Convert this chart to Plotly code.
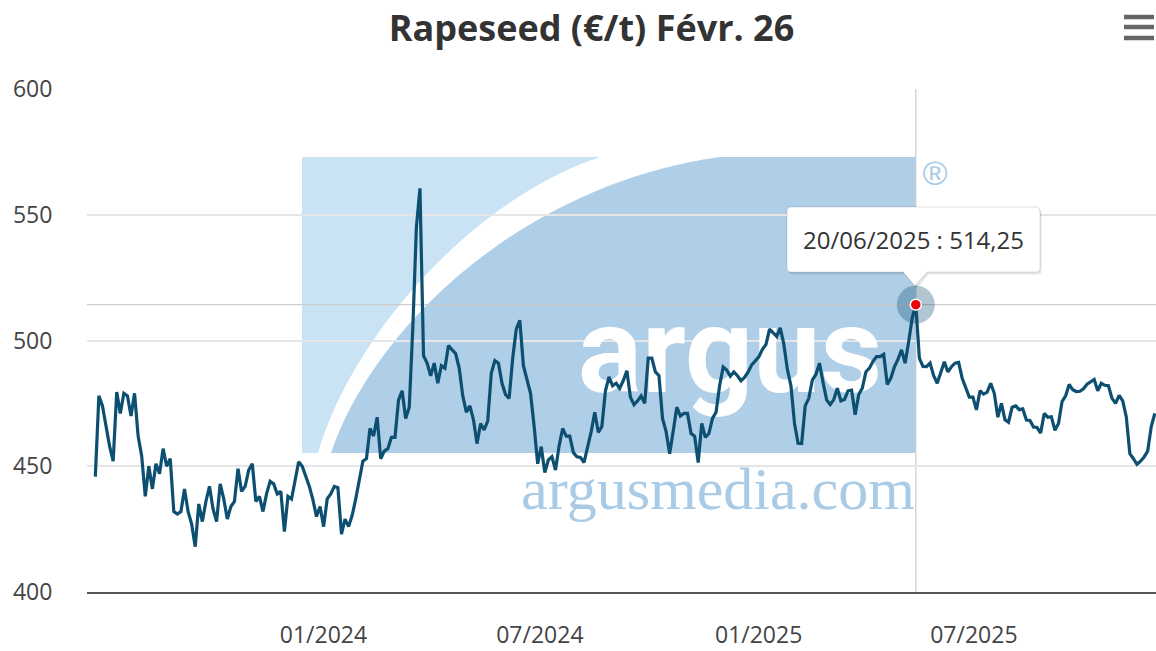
import pandas as pd
import plotly.graph_objects as go

# ---------------- data ----------------
title_text = "Rapeseed (€/t) Févr. 26"
start_date = "2023-07-31"
date_step = "3D"
prices = [
    445.9, 478, 474, 466, 458, 452, 479.5, 471, 479, 478,
    470, 479, 462, 454, 438, 450, 441, 451, 447, 457,
    450, 453, 432, 431, 432, 441, 432, 427, 418, 435,
    428, 436, 442, 433, 428, 443, 437, 429, 434, 436,
    449, 440, 442, 448.5, 451, 436, 438, 432, 439, 444,
    443, 439, 440, 424, 438, 437, 444, 451.8, 450, 446,
    442, 436.6, 430, 434, 426, 437, 439, 442, 441.5, 423,
    429, 426, 430.5, 437, 444, 452, 453, 465, 462, 469.5,
    453, 456, 457, 461.5, 461.5, 476.4, 480, 469, 473.5, 505,
    545, 560.5, 494, 491, 486, 491, 483, 490, 489, 498,
    496.3, 494.8, 489, 478, 471.5, 474, 468.5, 459, 467, 464.4,
    468, 487, 492, 491, 483, 478.5, 477, 493, 504.5, 508,
    490, 484.3, 479, 466, 451, 457.8, 447.5, 452.5, 453.8, 448.5,
    458, 465, 462, 462, 455.5, 453.8, 453.5, 451.5, 457.5, 463.7,
    471.5, 463.5, 465.8, 480, 485.5, 482, 483, 481, 484, 488,
    477.5, 474.5, 476, 478, 475, 493, 493, 487.5, 486, 469,
    463.8, 455, 464, 473.5, 470, 471, 471, 463, 462, 451.5,
    467, 461.5, 463, 469, 471.5, 482, 489.5, 488.3, 485.8, 487.5,
    486, 484, 485.3, 487.5, 490.3, 491.8, 493.5, 496.5, 498.4, 504.5,
    503, 501.6, 505, 498.6, 488.5, 482, 467, 459.1, 459, 474,
    477, 484.3, 486.5, 491, 483.3, 476.4, 474.5, 476.5, 481, 476,
    476.5, 480, 480.3, 470.5, 478.5, 481, 487.5, 489, 491.7, 493.6,
    493.6, 494.5, 482.5, 485, 489.5, 492.5, 496.3, 491, 499.5, 509,
    514.25, 493, 489.7, 489.6, 491, 486, 483, 487.5, 491.5, 487.5,
    489.6, 491, 491.3, 485, 481, 477.5, 477.5, 472.4, 480, 478.7,
    479.5, 483, 479, 469.5, 475, 468.5, 467.5, 473.5, 474, 472.5,
    472.8, 468.4, 468.2, 465.6, 465.4, 463.2, 471, 469.5, 469.7, 464.3,
    467, 475.7, 478, 482.5, 480.4, 479.7, 479.8, 480.8, 482.6, 483.5,
    484.5, 480, 483, 482.2, 482, 477, 475, 478.2, 476, 469.7,
    455, 453, 450.8, 452, 453.7, 456, 465.8, 471,
]
dates = pd.date_range(start_date, periods=len(prices), freq=date_step)

x_range = ["2023-07-24", "2026-01-08"]
y_range = [400, 600]
y_tick_vals = [400, 450, 500, 550, 600]
x_tick_vals = ["2024-01-01", "2024-07-01", "2025-01-01", "2025-07-01"]
x_tick_text = ["01/2024", "07/2024", "01/2025", "07/2025"]
tip_index = 230  # 20/06/2025

# ---------------- layout geometry ----------------
W, H = 1156, 651
ML, MR, MT, MB = 87, 0, 89, 59
PW, PH = W - ML - MR, H - MT - MB


def X(p):
    return (p - ML) / PW


def Y(p):
    return (H - MB - p) / PH


def P(x, y):
    return f"{X(x):.5f},{Y(y):.5f}"


LINE = "#0d4f70"
LIGHT = "#c9e3f5"
DARK = "#afcee7"
WM_TEXT = "#a9cbe6"

shapes = []
# watermark block
shapes.append(dict(type="path", xref="paper", yref="paper", layer="below",
                   path=f"M {P(302,157)} L {P(916,157)} L {P(916,453)} L {P(302,453)} Z",
                   fillcolor=LIGHT, line=dict(width=0)))
shapes.append(dict(type="path", xref="paper", yref="paper", layer="below",
                   path=(f"M {P(318,453)} C {P(350,340)} {P(470,200)} {P(600,157)} "
                         f"L {P(916,157)} L {P(916,453)} Z"),
                   fillcolor="#ffffff", line=dict(width=0)))
shapes.append(dict(type="path", xref="paper", yref="paper", layer="below",
                   path=(f"M {P(331,453)} C {P(372,330)} {P(520,185)} {P(720,157)} "
                         f"L {P(916,157)} L {P(916,453)} Z"),
                   fillcolor=DARK, line=dict(width=0)))
# crosshairs
tip_date = dates[tip_index]
tip_val = prices[tip_index]
shapes.append(dict(type="line", xref="x2", yref="paper", layer="below",
                   x0=tip_date, x1=tip_date, y0=0, y1=1,
                   line=dict(color="#cccccc", width=1.2)))
shapes.append(dict(type="line", xref="paper", yref="y2", layer="below",
                   x0=0, x1=1, y0=tip_val, y1=tip_val,
                   line=dict(color="#cccccc", width=1.2)))
# menu icon
for yy in (17, 27, 38):
    shapes.append(dict(type="line", xref="paper", yref="paper",
                       x0=X(1124), x1=X(1154), y0=Y(yy), y1=Y(yy),
                       line=dict(color="#666666", width=4.5)))


def tooltip_path(x0, y0, x1, y1, r, tipx, tipy, half, dx=0, dy=0):
    x0 += dx; x1 += dx; y0 += dy; y1 += dy; tipx += dx; tipy += dy
    return (f"M {P(x0+r,y0)} L {P(x1-r,y0)} Q {P(x1,y0)} {P(x1,y0+r)} "
            f"L {P(x1,y1-r)} Q {P(x1,y1)} {P(x1-r,y1)} "
            f"L {P(tipx+half,y1)} L {P(tipx,tipy)} L {P(tipx-half,y1)} "
            f"L {P(x0+r,y1)} Q {P(x0,y1)} {P(x0,y1-r)} "
            f"L {P(x0,y0+r)} Q {P(x0,y0)} {P(x0+r,y0)} Z")


shapes.append(dict(type="path", xref="paper", yref="paper", layer="above",
                   path=tooltip_path(787, 207, 1040, 272, 4, 915, 286, 12, 1.5, 2.5),
                   fillcolor="rgba(0,0,0,0.10)", line=dict(width=0)))
shapes.append(dict(type="path", xref="paper", yref="paper", layer="above",
                   path=tooltip_path(787, 207, 1040, 272, 4, 915, 286, 12),
                   fillcolor="#ffffff", line=dict(color="rgba(0,0,0,0.12)", width=1)))

tip_label = f"{tip_date.strftime('%d/%m/%Y')} : {tip_val:.2f}".replace(".", ",")

fig = go.Figure()
# watermark texts (on the hidden base axes, below the price line)
fig.add_trace(go.Scatter(x=[X(730)], y=[Y(362)], mode="text", text=["argus"],
                         textposition="middle center", hoverinfo="skip", showlegend=False,
                         textfont=dict(family="Roboto", size=120, color="#ffffff", weight="bold"),
                         xaxis="x", yaxis="y"))
fig.add_trace(go.Scatter(x=[X(718)], y=[Y(494)], mode="text", text=["argusmedia.com"],
                         textposition="middle center", hoverinfo="skip", showlegend=False,
                         textfont=dict(family="Liberation Serif", size=60, color=WM_TEXT),
                         xaxis="x", yaxis="y"))
fig.add_trace(go.Scatter(x=[X(935)], y=[Y(176)], mode="text", text=["®"],
                         textposition="middle center", hoverinfo="skip", showlegend=False,
                         textfont=dict(family="Liberation Sans", size=34, color=WM_TEXT),
                         xaxis="x", yaxis="y"))
# price line
fig.add_trace(go.Scatter(x=dates, y=prices, mode="lines", line=dict(color=LINE, width=3.2),
                         hoverinfo="skip", showlegend=False, xaxis="x2", yaxis="y2"))
# highlighted point
fig.add_trace(go.Scatter(x=[tip_date], y=[tip_val], mode="markers",
                         marker=dict(size=38, color="rgba(13,79,112,0.32)", line=dict(width=0)),
                         hoverinfo="skip", showlegend=False, xaxis="x2", yaxis="y2"))
fig.add_trace(go.Scatter(x=[tip_date], y=[tip_val], mode="markers",
                         marker=dict(size=11, color="#e8000b", line=dict(color="#ffffff", width=1.5)),
                         hoverinfo="skip", showlegend=False, xaxis="x2", yaxis="y2"))

tick_font = dict(family="Open Sans", size=23, color="#444444")
fig.update_layout(
    width=W, height=H,
    margin=dict(l=ML, r=MR, t=MT, b=MB, autoexpand=False),
    paper_bgcolor="#ffffff", plot_bgcolor="#ffffff",
    showlegend=False,
    title=dict(text=f"<b>{title_text}</b>", x=591.5 / W, xanchor="center",
               y=1 - 28 / H, yanchor="middle", xref="container", yref="container",
               font=dict(family="Open Sans", size=36, color="#333333")),
    xaxis=dict(range=[0, 1], visible=False, fixedrange=True),
    yaxis=dict(range=[0, 1], visible=False, fixedrange=True),
    xaxis2=dict(overlaying="x", anchor="y2", type="date", range=x_range,
                tickmode="array", tickvals=x_tick_vals, ticktext=x_tick_text,
                showgrid=False, zeroline=False, showline=True, linecolor="#555555", linewidth=2,
                ticks="outside", ticklen=21, tickcolor="rgba(0,0,0,0)",
                ticklabelshift=45, tickfont=tick_font, automargin=False),
    yaxis2=dict(overlaying="y", anchor="x2", range=y_range, tickmode="array",
                tickvals=y_tick_vals, showgrid=True, gridcolor="#e6e6e6", gridwidth=1.5,
                zeroline=False, showline=False, ticks="outside", ticklen=29,
                tickcolor="rgba(0,0,0,0)", tickfont=tick_font, automargin=False),
    shapes=shapes,
    annotations=[dict(text=tip_label, x=X(913.5), y=Y(239), xref="paper", yref="paper",
                      showarrow=False, xanchor="center", yanchor="middle",
                      font=dict(family="Open Sans", size=24, color="#333333"))],
)

fig.write_html("out.html", config={"displayModeBar": False},
               post_script="document.body.style.margin='0px';")
